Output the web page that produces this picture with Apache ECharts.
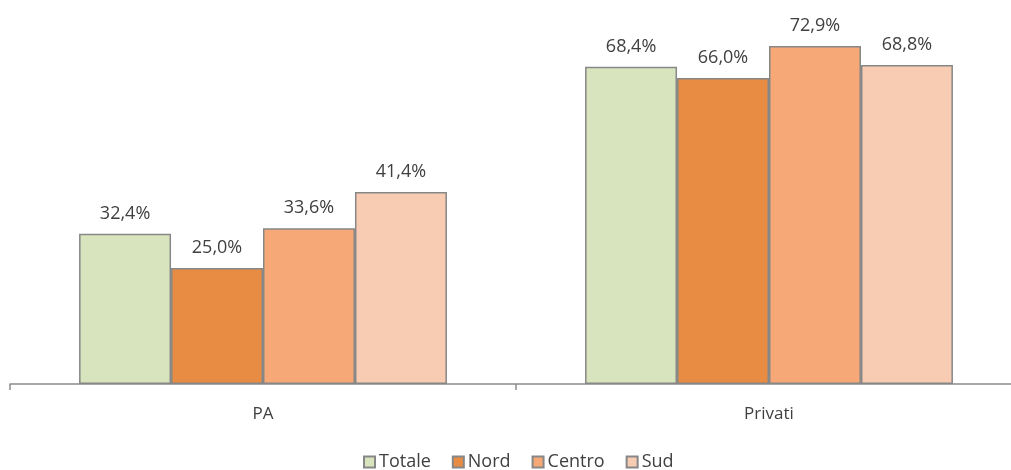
<!DOCTYPE html>
<html>
<head>
<meta charset="utf-8">
<script src="https://cdn.jsdelivr.net/npm/echarts@6/dist/echarts.min.js"></script>
<style>
  html, body { margin: 0; padding: 0; background: #fff; }
  #chart { width: 1011px; height: 470px; }
</style>
</head>
<body>
<div id="chart"></div>
<script>
// Categories and series values (percentages)
const categories = ['PA', 'Privati'];
const seriesNames = ['Totale', 'Nord', 'Centro', 'Sud'];
const totale = [32.4, 68.4];
const nord = [25.0, 66.0];
const centro = [33.6, 72.9];
const sud = [41.4, 68.8];

const values = [totale, nord, centro, sud];
const colors = ['#D7E4BD', '#E78C42', '#F6A977', '#F8CBB3'];
const FONT = '"Open Sans", sans-serif';
const TEXT = '#404040';

const chart = echarts.init(document.getElementById('chart'));

chart.setOption({
  animation: false,
  textStyle: { fontFamily: FONT },
  grid: { left: 10, top: 13, width: 1012, bottom: 86, outerBoundsMode: 'none' },
  legend: {
    top: 453,
    left: 363,
    padding: 0,
    itemWidth: 11,
    itemHeight: 11,
    itemGap: 21,
    icon: 'rect',
    textStyle: { fontSize: 18, color: TEXT, fontFamily: FONT, padding: [0, 0, 0, -1] },
    data: seriesNames
  },
  xAxis: {
    type: 'category',
    data: categories,
    axisLine: { lineStyle: { color: '#8C8C8C', width: 1.5 } },
    axisTick: { show: true, length: 6, lineStyle: { color: '#8C8C8C', width: 1.5 } },
    axisLabel: { fontSize: 17, color: TEXT, margin: 22, fontFamily: FONT }
  },
  yAxis: {
    type: 'value',
    min: 0,
    max: 80,
    show: false,
    splitLine: { show: false }
  },
  series: seriesNames.map((name, i) => ({
    name: name,
    type: 'bar',
    data: values[i],
    barGap: '0%',
    barCategoryGap: '27.3%',
    itemStyle: { color: colors[i], borderColor: '#878787', borderWidth: 1.5 },
    label: {
      show: true,
      position: 'top',
      distance: 11,
      fontSize: 18,
      color: TEXT,
      fontFamily: FONT,
      formatter: p => p.value.toFixed(1).replace('.', ',') + '%'
    }
  }))
});
</script>
</body>
</html>
